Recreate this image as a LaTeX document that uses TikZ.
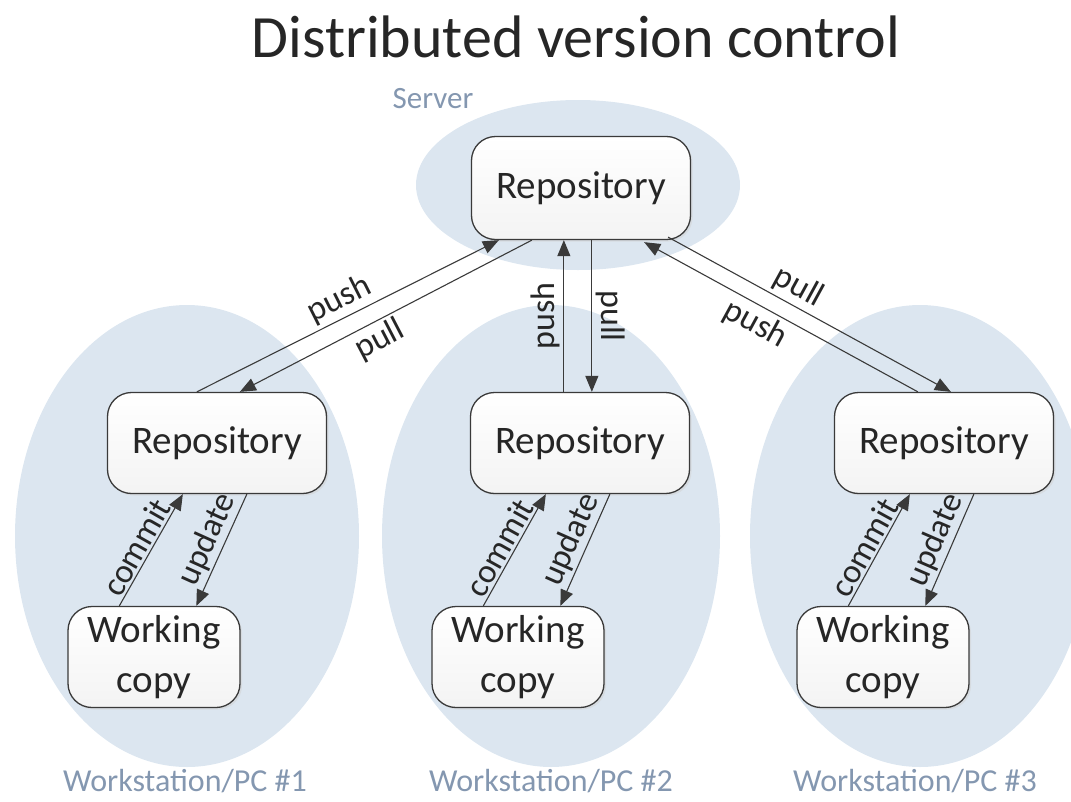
\documentclass[tikz,border=0pt]{standalone}
\usepackage{fontspec}
\setmainfont{Carlito}
\usetikzlibrary{calc,arrows.meta,shadows}
\definecolor{blob}{HTML}{DCE6F0}
\definecolor{lbl}{HTML}{8497B0}
\definecolor{ink}{HTML}{262626}
\definecolor{ln}{HTML}{3A3A3A}
\tikzset{
  blobshape/.style={fill=blob, draw=none},
  box/.style={draw=ln, line width=1.3pt, rounded corners=24pt, inner sep=0pt,
    top color=white, bottom color=gray!9, text=ink,
    font=\fontsize{39}{50}\selectfont, align=center,
    drop shadow={shadow xshift=2pt, shadow yshift=-2pt, fill=gray!35, opacity=.5}},
  repo/.style={box, minimum width=219pt, minimum height=101pt},
  wc/.style={box, minimum width=172pt, minimum height=101pt},
  conn/.style={draw=ln, line width=1.1pt, -{Triangle[length=16pt,width=13pt]}},
  lab/.style={font=\fontsize{34}{36}\selectfont, text=ink, inner sep=3.5pt},
  ws/.style={font=\fontsize{32}{36}\selectfont, text=lbl},
}
\begin{document}
\begin{tikzpicture}[x=1pt,y=-1pt]
\useasboundingbox (0,0) rectangle (1071,801);
% background blobs
\fill[blobshape] (578,185) ellipse [x radius=162, y radius=85];
\fill[blobshape] (187,536) ellipse [x radius=172, y radius=231];
\fill[blobshape] (551,536) ellipse [x radius=169, y radius=231];
\fill[blobshape] (920,536) ellipse [x radius=170, y radius=231];
% texts
\node[font=\fontsize{60}{66}\selectfont, text=ink] (title) at (576,37) {Distributed version control};
\node[font=\fontsize{31}{34}\selectfont, text=lbl] (srv) at (433,99) {Server};
\node[ws] (ws1) at (185,781) {Workstation/PC \#1};
\node[ws] (ws2) at (551,781) {Workstation/PC \#2};
\node[ws] (ws3) at (915,781) {Workstation/PC \#3};
% boxes
\node[repo, minimum height=103pt] (r0) at (581,188) {Repository};
\node[repo] (r1) at (217,443) {Repository};
\node[repo] (r2) at (580,443) {Repository};
\node[repo] (r3) at (944,443) {Repository};
\node[wc] (w1) at (154,657) {Working\\copy};
\node[wc] (w2) at (518,657) {Working\\copy};
\node[wc] (w3) at (883,657) {Working\\copy};
% left pair
\draw[conn] ($(r1.north west)+(90,0)$) -- node[lab, sloped, above, pos=.5] {push} ($(r0.south west)+(28,0)$);
\draw[conn] ($(r0.south west)+(61,0)$) -- node[lab, sloped, below, pos=.55] {pull} ($(r1.north west)+(133,0)$);
% middle pair
\draw[conn] ($(r2.north west)+(94,0)$) -- node[lab, rotate=90, anchor=south, pos=.5] {push} ($(r0.south west)+(93,0)$);
\draw[conn] ($(r0.south west)+(121,0)$) -- node[lab, rotate=-90, anchor=south, pos=.5] {pull} ($(r2.north west)+(122,0)$);
% right pair
\draw[conn] ($(r0.south east)+(-23,-3)$) -- node[lab, sloped, above, pos=.43] {pull} ($(r3.north west)+(117,0)$);
\draw[conn] ($(r3.north west)+(84,0)$) -- node[lab, sloped, below, pos=.56] {push} ($(r0.south east)+(-47,2)$);
% commit / update
\foreach \w/\r in {w1/r1, w2/r2, w3/r3}{
  \draw[conn] ($(\w.north west)+(52,0)$) -- node[lab, sloped, above, pos=.46, inner sep=2pt] {commit} ($(\r.south west)+(76,0)$);
  \draw[conn] ($(\r.south west)+(140,0)$) -- node[lab, sloped, above, pos=.47, inner sep=2pt] {update} ($(\w.north west)+(129,0)$);
}
\end{tikzpicture}
\end{document}
